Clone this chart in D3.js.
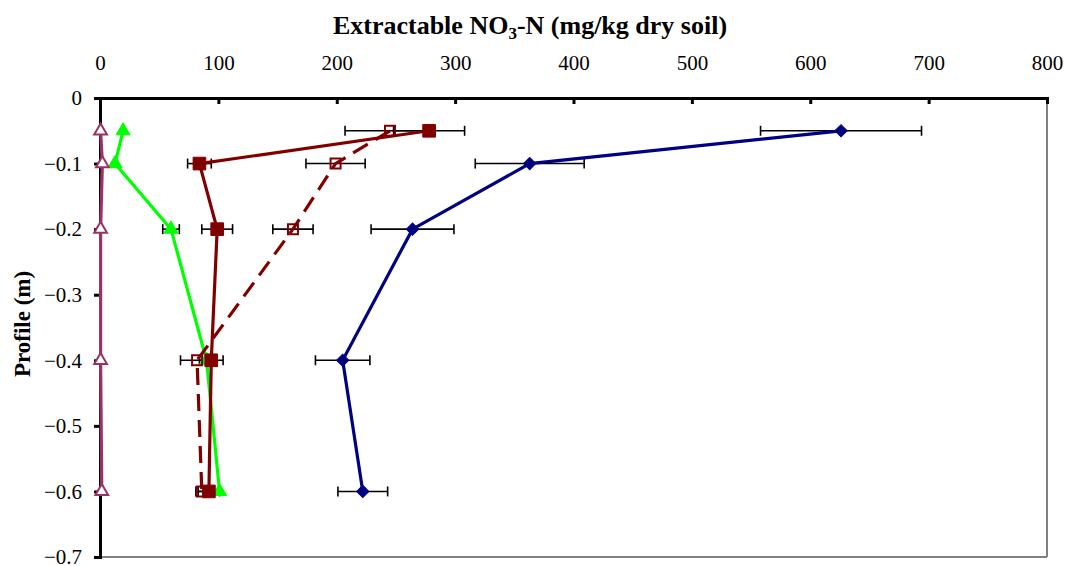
<!DOCTYPE html>
<html><head><meta charset="utf-8">
<script src="https://cdn.jsdelivr.net/npm/d3@7"></script>
<style>body{margin:0;background:#fff}svg{display:block}</style>
</head><body>
<svg id="c" width="1068" height="566"></svg>
<script>
const depths = [-0.05, -0.1, -0.2, -0.4, -0.6];
const xTicks = [0, 100, 200, 300, 400, 500, 600, 700, 800];
const yTicks = [0, -0.1, -0.2, -0.3, -0.4, -0.5, -0.6, -0.7];

const blueVals = [626, 363, 264, 205, 222];
const blueErr = [68, 46, 35, 23, 21];
const redSolidVals = [278, 84, 99, 94, 92];
const redSolidErr = [30, 10, 13, 10, 9];
const redDashVals = [245, 199, 163, 82, 86];
const redDashErr = [38, 25, 17, 14, 5];
const greenVals = [19.5, 12.7, 60, 90, 101];
const greenErr = [0, 0, 7, 0, 0];
const pinkVals = [0.5, 2, 0.5, 0.5, 1.5];

const svg = d3.select("#c");
const x = d3.scaleLinear().domain([0, 800]).range([100, 1047]);
const y = d3.scaleLinear().domain([-0.7, 0]).range([557, 98]);
const font = "'Liberation Serif','Times New Roman',serif";

// plot border (right & bottom)
svg.append("line").attr("x1", 1047).attr("x2", 1047).attr("y1", 98).attr("y2", 557).attr("stroke", "#808080").attr("stroke-width", 2);
svg.append("line").attr("x1", 100).attr("x2", 1047).attr("y1", 557).attr("y2", 557).attr("stroke", "#808080").attr("stroke-width", 2);

// axes
const xAxis = svg.append("g").attr("transform", `translate(0,${y(0)})`)
  .call(d3.axisTop(x).tickValues(xTicks).tickSize(-6).tickPadding(0).tickFormat(d3.format("d")));
xAxis.select(".domain").attr("stroke", "#000").attr("stroke-width", 3);
xAxis.selectAll(".tick line").attr("stroke", "#000").attr("stroke-width", 3);
xAxis.selectAll(".tick text").attr("y", -28).attr("font-family", font).attr("font-size", 21).attr("fill", "#000");

const yAxis = svg.append("g").attr("transform", `translate(${x(0)},0)`)
  .call(d3.axisLeft(y).tickValues(yTicks).tickSize(6).tickPadding(12).tickFormat(d => d === 0 ? "0" : d3.format(".1f")(d)));
yAxis.select(".domain").attr("stroke", "#000").attr("stroke-width", 3);
yAxis.selectAll(".tick line").attr("stroke", "#000").attr("stroke-width", 3);
yAxis.selectAll(".tick text").attr("font-family", font).attr("font-size", 21).attr("fill", "#000");

// titles
const t = svg.append("text").attr("x", 530).attr("y", 34).attr("text-anchor", "middle")
  .attr("font-family", font).attr("font-size", 26).attr("font-weight", "bold");
t.append("tspan").text("Extractable NO");
t.append("tspan").text("3").attr("font-size", 17).attr("dy", 5);
t.append("tspan").text("-N (mg/kg dry soil)").attr("dy", -5);

svg.append("text").attr("transform", "translate(30,324) rotate(-90)").attr("text-anchor", "middle")
  .attr("font-family", font).attr("font-size", 23).attr("font-weight", "bold").text("Profile (m)");

const line = d3.line().x(d => x(d.v)).y(d => y(d.d));
function mk(vals, errs) { return vals.map((v, i) => ({ v, d: depths[i], e: errs ? errs[i] : 0 })); }

const series = [
  { data: mk(greenVals, greenErr), color: "#00ff00", dash: null, shape: d3.symbolTriangle, size: 85, fill: "#00ff00", rot: 0 },
  { data: mk(pinkVals, null), color: "#993366", dash: null, shape: d3.symbolTriangle, size: 70, fill: "#fff", rot: 0 },
  { data: mk(blueVals, blueErr), color: "#000080", dash: null, shape: d3.symbolSquare, size: 75, fill: "#000080", rot: 45 },
  { data: mk(redDashVals, redDashErr), color: "#800000", dash: "17,9", shape: d3.symbolSquare, size: 100, fill: "none", rot: 0 },
  { data: mk(redSolidVals, redSolidErr), color: "#800000", dash: null, shape: d3.symbolSquare, size: 160, fill: "#800000", rot: 0 }
];

// error bars
const eg = svg.append("g");
series.forEach(s => {
  s.data.filter(d => d.e > 0).forEach(d => {
    const x1 = x(d.v - d.e), x2 = x(d.v + d.e), yy = y(d.d);
    eg.append("line").attr("x1", x1).attr("x2", x2).attr("y1", yy).attr("y2", yy).attr("stroke", "#000").attr("stroke-width", 1.6);
    [x1, x2].forEach(xx => eg.append("line").attr("x1", xx).attr("x2", xx).attr("y1", yy - 5).attr("y2", yy + 5).attr("stroke", "#000").attr("stroke-width", 1.6));
  });
});

series.forEach(s => {
  const g = svg.append("g");
  g.append("path").datum(s.data).attr("d", line).attr("fill", "none").attr("stroke", s.color)
    .attr("stroke-width", 3.2).attr("stroke-dasharray", s.dash);
  g.selectAll("path.m").data(s.data).join("path").attr("class", "m")
    .attr("d", d3.symbol().type(s.shape).size(s.size))
    .attr("transform", d => `translate(${x(d.v)},${y(d.d)}) rotate(${s.rot})`)
    .attr("fill", s.fill).attr("stroke", s.color).attr("stroke-width", s.fill === "none" || s.fill === "#fff" ? 2 : 1);
});
</script>
</body></html>
